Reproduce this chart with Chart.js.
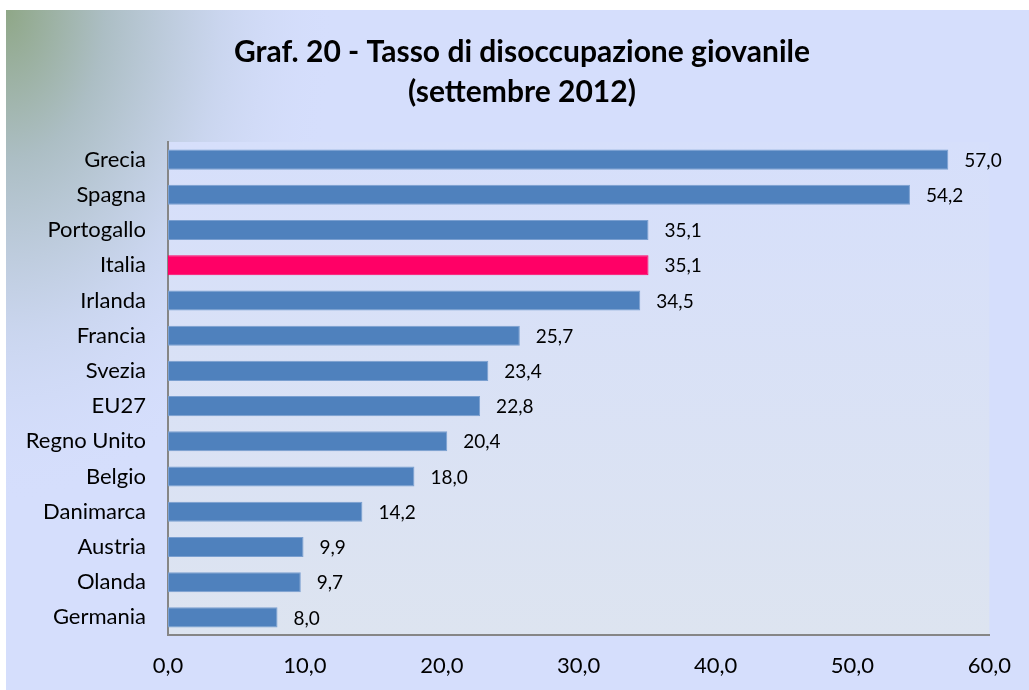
<!DOCTYPE html>
<html>
<head>
<meta charset="utf-8">
<script src="https://cdn.jsdelivr.net/npm/chart.js@4/dist/chart.umd.min.js"></script>
<style>
html,body{margin:0;padding:0;background:#fff;}
#wrap{width:1029px;height:690px;position:relative;}
</style>
</head>
<body>
<div id="wrap"><canvas id="c" width="1029" height="690"></canvas></div>
<script>
const categories = ["Grecia","Spagna","Portogallo","Italia","Irlanda","Francia","Svezia","EU27","Regno Unito","Belgio","Danimarca","Austria","Olanda","Germania"];
const values = [57.0,54.2,35.1,35.1,34.5,25.7,23.4,22.8,20.4,18.0,14.2,9.9,9.7,8.0];
const highlight = "Italia";
const titleLines = ["Graf. 20 - Tasso di disoccupazione giovanile","(settembre 2012)"];
const xTicks = {min:0, max:60, step:10};

const FONT = "Lato, 'Open Sans', sans-serif";
const fmt = v => v.toFixed(1).replace('.', ',');

const bgPlugin = {
  id:'bg',
  beforeDraw(chart){
    const ctx = chart.ctx;
    ctx.save();
    ctx.fillStyle = '#ffffff';
    ctx.fillRect(0,0,chart.width,chart.height);
    ctx.fillStyle = '#D5DEFC';
    ctx.fillRect(6,10,chart.width-6,chart.height-10);
    ctx.beginPath();
    ctx.rect(6,10,chart.width-6,chart.height-10);
    ctx.clip();
    ctx.translate(6,10);
    ctx.scale(1,1.5);
    const g = ctx.createRadialGradient(0,0,0,0,0,330);
    g.addColorStop(0,'rgba(143,167,135,1)');
    g.addColorStop(0.3,'rgba(172,190,196,1)');
    g.addColorStop(0.65,'rgba(200,212,236,0.85)');
    g.addColorStop(1,'rgba(213,222,252,0)');
    ctx.fillStyle = g;
    ctx.fillRect(0,0,450,450);
    ctx.restore();
    const a = chart.chartArea;
    ctx.save();
    const lg = ctx.createLinearGradient(0,a.top,0,a.bottom);
    lg.addColorStop(0,'rgba(214,223,251,1)');
    lg.addColorStop(1,'rgba(221,228,240,1)');
    ctx.fillStyle = lg;
    ctx.fillRect(a.left,a.top,a.right-a.left,a.bottom-a.top);
    ctx.restore();
  }
};

const titlePlugin = {
  id:'ctitle',
  afterDraw(chart){
    const ctx = chart.ctx;
    ctx.save();
    ctx.font = "bold 30px " + FONT;
    ctx.fillStyle = '#000';
    ctx.textAlign = 'center';
    ctx.textBaseline = 'middle';
    titleLines.forEach((t,i)=> ctx.fillText(t, 522, 52 + i*40));
    ctx.restore();
  }
};

const labelPlugin = {
  id:'vlabels',
  afterDatasetsDraw(chart){
    const ctx = chart.ctx;
    const meta = chart.getDatasetMeta(0);
    ctx.save();
    ctx.font = "19px " + FONT;
    ctx.fillStyle = '#000';
    ctx.textAlign = 'left';
    ctx.textBaseline = 'middle';
    meta.data.forEach((bar,i)=>{
      ctx.fillText(fmt(values[i]), bar.x + 16, bar.y + 1);
    });
    ctx.restore();
  }
};

new Chart(document.getElementById('c'), {
  type:'bar',
  data:{
    labels: categories,
    datasets:[{
      data: values,
      backgroundColor: categories.map(c => c===highlight ? '#FF0066' : '#4F81BD'),
      borderColor: categories.map(c => c===highlight ? '#FF0066' : '#7A9FD0'),
      borderWidth: 1,
      borderSkipped: false,
      categoryPercentage: 1,
      barPercentage: 0.57
    }]
  },
  options:{
    indexAxis:'y',
    responsive:false,
    animation:false,
    devicePixelRatio:1,
    layout:{padding:{left:0,right:39,top:142,bottom:0}},
    plugins:{
      legend:{display:false},
      tooltip:{enabled:false},
      title:{display:false}
    },
    scales:{
      x:{
        min:xTicks.min, max:xTicks.max,
        grid:{display:false, drawTicks:false},
        border:{display:true, color:'#868686', width:2},
        ticks:{stepSize:xTicks.step, color:'#000', padding:18, font:{family:FONT,size:22}, callback:v=>fmt(v)},
        afterFit(s){ s.height = 55; }
      },
      y:{
        grid:{display:false, drawTicks:false},
        border:{display:true, color:'#868686', width:2},
        ticks:{color:'#000', padding:22, font:{family:FONT,size:22}},
        afterFit(s){ s.width = 168; }
      }
    }
  },
  plugins:[bgPlugin,labelPlugin,titlePlugin]
});
</script>
</body>
</html>
